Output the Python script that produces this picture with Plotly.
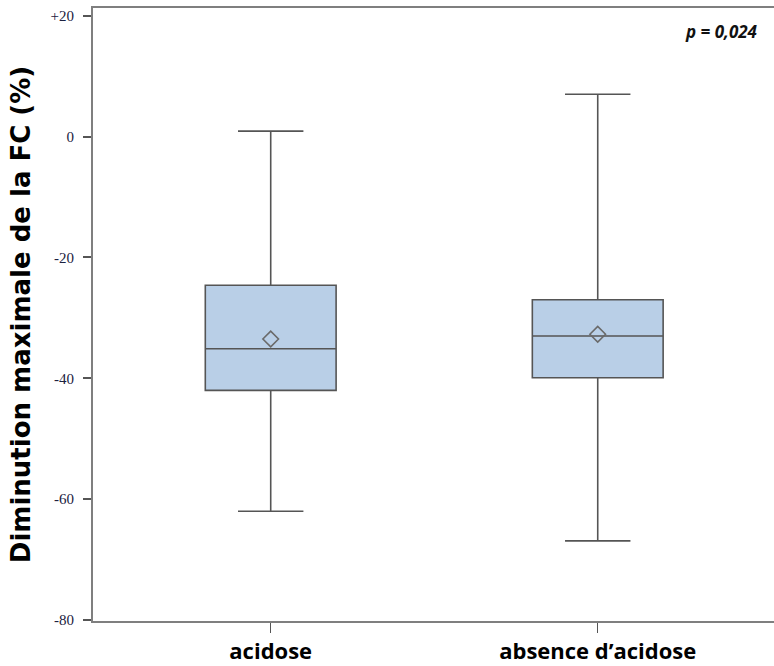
import plotly.graph_objects as go

# Box-plot summary per group (heart-rate drop, %)
groups = ["acidose", "absence d\u2019acidose"]
lower_whisker = [-62.0, -66.9]
q1_values = [-42.0, -39.9]
medians = [-35.1, -33.0]
q3_values = [-24.6, -27.0]
upper_whisker = [0.9, 7.0]
means = [-33.5, -32.7]

y_tick_values = [20, 0, -20, -40, -60, -80]
y_tick_labels = ["+20", "0", "-20", "-40", "-60", "-80"]
p_label = "p = 0,024"

fig = go.Figure()

for i, g in enumerate(groups):
    fig.add_trace(go.Box(
        x=[g],
        q1=[q1_values[i]],
        median=[medians[i]],
        q3=[q3_values[i]],
        lowerfence=[lower_whisker[i]],
        upperfence=[upper_whisker[i]],
        width=0.4,
        whiskerwidth=0.5,
        fillcolor="#b9cfe7",
        line=dict(color="#555555", width=1.6),
        showlegend=False,
        hoverinfo="skip",
    ))

fig.add_trace(go.Scatter(
    x=groups,
    y=means,
    mode="markers",
    marker=dict(symbol="diamond-open", size=12,
                color="#6a6a6a", line=dict(width=1.6, color="#6a6a6a")),
    showlegend=False,
    hoverinfo="skip",
))

fig.add_annotation(
    text=f"<b><i>{p_label}</i></b>",
    xref="paper", yref="paper", x=0.979, y=0.961,
    xanchor="right", yanchor="middle", showarrow=False,
    font=dict(family="Open Sans", size=17, color="#111111"),
)

fig.update_layout(
    width=774, height=666,
    margin=dict(l=93, r=0, t=8, b=45),
    paper_bgcolor="white",
    plot_bgcolor="white",
    xaxis=dict(
        type="category",
        categoryorder="array",
        categoryarray=groups,
        range=[-0.5434, 1.539],
        showline=True, linecolor="#7f7f7f", linewidth=2,
        mirror=True,
        ticks="outside", ticklen=10, tickcolor="#555555", tickwidth=1,
        showgrid=False, zeroline=False,
        tickfont=dict(family="Open Sans", size=22, color="#000000", weight="bold"),
    ),
    yaxis=dict(
        range=[-80.15, 21.27],
        tickvals=y_tick_values,
        ticktext=y_tick_labels,
        showline=True, linecolor="#7f7f7f", linewidth=2,
        ticks="outside", ticklen=8, tickcolor="#555555", tickwidth=2,
        ticklabelstandoff=6,
        showgrid=False, zeroline=False,
        tickfont=dict(family="Liberation Serif", size=15, color="#1b2140"),
        title=dict(
            text="<b>Diminution maximale de la FC (%)</b>",
            font=dict(family="DejaVu Sans", size=26, color="#000000"),
            standoff=12,
        ),
    ),
)

fig.write_html("out.html")
